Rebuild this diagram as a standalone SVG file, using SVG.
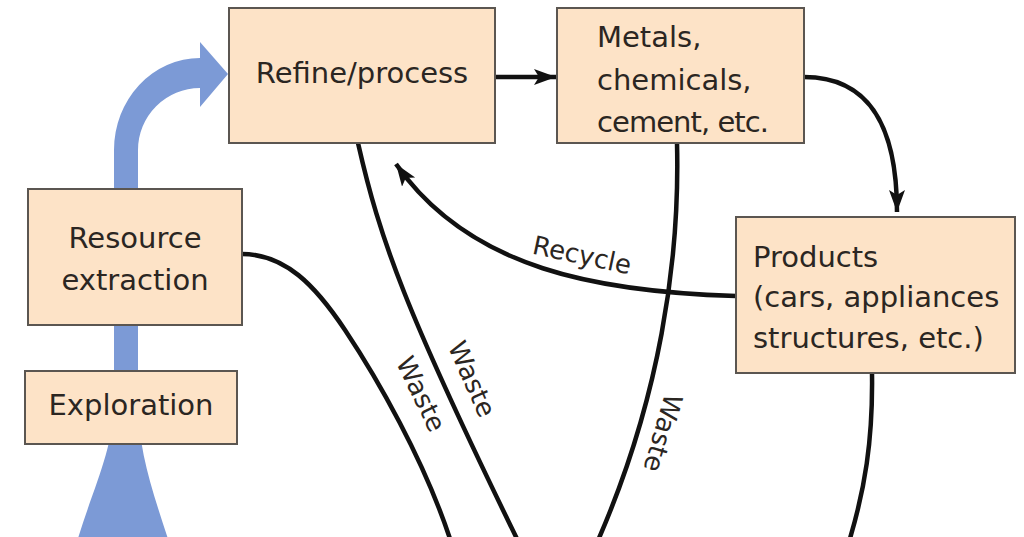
<svg xmlns="http://www.w3.org/2000/svg" width="1024" height="537" viewBox="0 0 1024 537">
  <defs>
    <style>
      .box { fill: #fde3c7; stroke: #5b5651; stroke-width: 2; }
      .lbl { font-family: "DejaVu Sans", "Liberation Sans", sans-serif; font-size: 29px; fill: #2b2622; }
      .wl { font-family: "DejaVu Sans", "Liberation Sans", sans-serif; font-size: 26px; fill: #2b2622; }
      .con { fill: none; stroke: #111; stroke-width: 4.5; stroke-linecap: butt; }
    </style>
    <marker id="arr" markerUnits="userSpaceOnUse" markerWidth="26" markerHeight="18" refX="22" refY="8" orient="auto">
      <path d="M0 0 L22 8 L0 16 L5 8 Z" fill="#111"/>
    </marker>
  </defs>
  <rect width="1024" height="537" fill="#ffffff"/>

  <g id="blue-flow">
    <path d="M76 545 C 92 490, 114 450, 114 400 L114 150 A86 92 0 0 1 200 58 L200 42 L228 74 L200 107 L200 88 A62 62 0 0 0 138 150 L138 400 C138 450, 152 490, 170 545 Z" fill="#7c9ad6"/>
  </g>

  <g id="connectors">
    <path class="con" d="M495 77 L556 77" marker-end="url(#arr)"/>
    <path class="con" d="M804 77 C 872 77, 897 130, 897 212" marker-end="url(#arr)"/>
    <path class="con" d="M736 296 C 600 292, 470 270, 396 164" marker-end="url(#arr)"/>
    <path class="con" d="M358 143 C 380 240, 405 310, 520 545"/>
    <path class="con" d="M242 254 C 285 254, 315 285, 345 330 C 375 375, 425 460, 452 545"/>
    <path class="con" d="M677 143 C 680 260, 660 400, 596 545"/>
    <path class="con" d="M872 373 C 873 440, 865 490, 848 545"/>
    <text class="wl" text-anchor="middle" transform="translate(582 255) rotate(12)" y="9">Recycle</text>
    <text class="wl" text-anchor="middle" transform="translate(472 379) rotate(66)" y="9">Waste</text>
    <text class="wl" text-anchor="middle" transform="translate(421 394) rotate(64)" y="9">Waste</text>
    <text class="wl" text-anchor="middle" transform="translate(663 433) rotate(106)" y="9">Waste</text>
  </g>

  <g id="refine">
    <rect class="box" x="229" y="8" width="266" height="135"/>
    <text class="lbl" x="362" y="83" text-anchor="middle">Refine/process</text>
  </g>

  <g id="metals">
    <rect class="box" x="557" y="8" width="247" height="135"/>
    <text class="lbl" x="597" y="47">Metals,</text>
    <text class="lbl" x="597" y="90">chemicals,</text>
    <text class="lbl" x="597" y="132" textLength="172">cement, etc.</text>
  </g>

  <g id="resource-extraction">
    <rect class="box" x="28" y="189" width="214" height="136"/>
    <text class="lbl" x="135" y="248" text-anchor="middle">Resource</text>
    <text class="lbl" x="135" y="290" text-anchor="middle">extraction</text>
  </g>

  <g id="exploration">
    <rect class="box" x="25" y="371" width="212" height="73"/>
    <text class="lbl" x="131" y="415" text-anchor="middle">Exploration</text>
  </g>

  <g id="products">
    <rect class="box" x="736" y="217" width="279" height="156"/>
    <text class="lbl" x="753" y="267">Products</text>
    <text class="lbl" x="753" y="307">(cars, appliances</text>
    <text class="lbl" x="753" y="348">structures, etc.)</text>
  </g>
</svg>
